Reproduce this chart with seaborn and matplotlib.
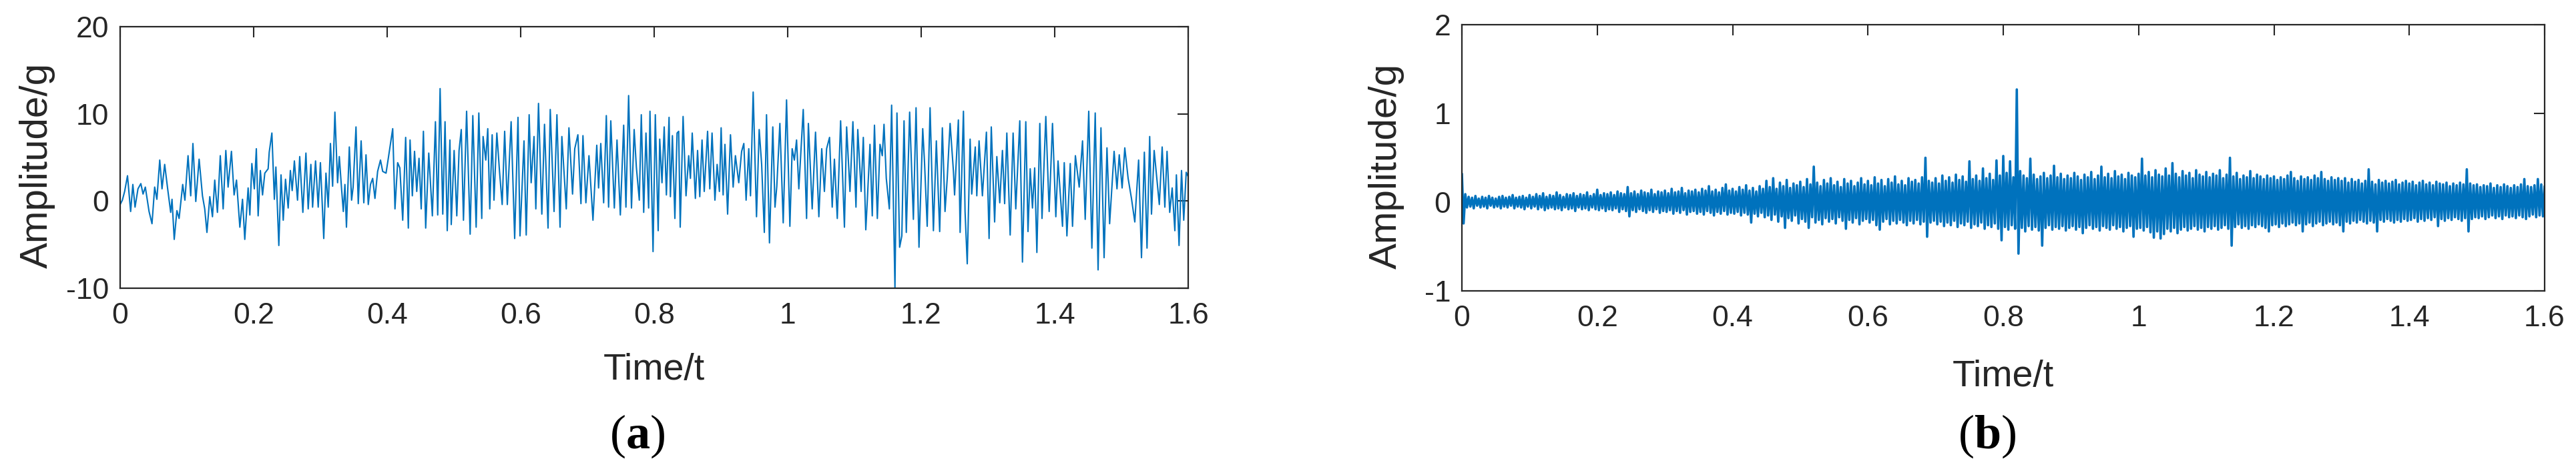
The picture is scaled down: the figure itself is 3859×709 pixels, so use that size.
import numpy as np
import pandas as pd
import matplotlib
matplotlib.use("Agg")
import matplotlib.pyplot as plt
import seaborn as sns

# ---------------- data ----------------
# Panel (a): time / amplitude of the visible turning points
TIME_A = [
    0.0000, 0.0033, 0.0067, 0.0110, 0.0157, 0.0190, 0.0223, 0.0267, 0.0310, 0.0343,
    0.0377, 0.0433, 0.0477, 0.0517, 0.0550, 0.0593, 0.0627, 0.0667, 0.0710, 0.0757,
    0.0777, 0.0810, 0.0850, 0.0883, 0.0937, 0.0970, 0.1017, 0.1057, 0.1090, 0.1133,
    0.1183, 0.1233, 0.1267, 0.1300, 0.1343, 0.1383, 0.1417, 0.1457, 0.1500, 0.1543,
    0.1583, 0.1617, 0.1667, 0.1707, 0.1743, 0.1793, 0.1833, 0.1867, 0.1917, 0.1943,
    0.1973, 0.2010, 0.2040, 0.2067, 0.2100, 0.2133, 0.2167, 0.2217, 0.2233, 0.2273,
    0.2310, 0.2333, 0.2377, 0.2410, 0.2443, 0.2477, 0.2517, 0.2550, 0.2577, 0.2610,
    0.2657, 0.2690, 0.2737, 0.2783, 0.2817, 0.2857, 0.2883, 0.2927, 0.2967, 0.3000,
    0.3050, 0.3083, 0.3117, 0.3150, 0.3183, 0.3217, 0.3257, 0.3283, 0.3317, 0.3343,
    0.3367, 0.3390, 0.3433, 0.3467, 0.3490, 0.3533, 0.3567, 0.3610, 0.3650, 0.3683,
    0.3717, 0.3750, 0.3783, 0.3817, 0.3857, 0.3900, 0.3933, 0.3983, 0.4017,
    0.4083, 0.4117, 0.4157, 0.4190, 0.4233, 0.4277, 0.4317, 0.4343, 0.4377, 0.4410,
    0.4443, 0.4477, 0.4510, 0.4543, 0.4577, 0.4623, 0.4677, 0.4723, 0.4757, 0.4793,
    0.4833, 0.4867, 0.4900, 0.4940, 0.4960, 0.5003, 0.5043, 0.5077, 0.5110, 0.5143,
    0.5190, 0.5243, 0.5283, 0.5333, 0.5373, 0.5417, 0.5437, 0.5477, 0.5507, 0.5537,
    0.5573, 0.5600, 0.5643, 0.5683, 0.5723, 0.5760, 0.5800, 0.5857, 0.5910, 0.5960,
    0.5990, 0.6050, 0.6083, 0.6127, 0.6157, 0.6200, 0.6227, 0.6267, 0.6317, 0.6357,
    0.6410, 0.6443, 0.6500, 0.6543, 0.6590, 0.6617, 0.6683, 0.6723, 0.6777, 0.6810,
    0.6857, 0.6903, 0.6933, 0.6977, 0.7023, 0.7083, 0.7140, 0.7167, 0.7200, 0.7243,
    0.7283, 0.7317, 0.7350, 0.7403, 0.7443, 0.7493, 0.7543, 0.7577, 0.7617, 0.7660,
    0.7700, 0.7733, 0.7777, 0.7807, 0.7843, 0.7877, 0.7917, 0.7937, 0.7983, 0.8017,
    0.8060, 0.8083, 0.8117, 0.8150, 0.8183, 0.8223, 0.8243, 0.8273, 0.8310, 0.8343,
    0.8367, 0.8390, 0.8433, 0.8477, 0.8517, 0.8543, 0.8570, 0.8617, 0.8650, 0.8683,
    0.8717, 0.8750, 0.8800, 0.8833, 0.8867, 0.8910, 0.8943, 0.8977, 0.9003, 0.9033,
    0.9060, 0.9100, 0.9143, 0.9183, 0.9217, 0.9267, 0.9310, 0.9343, 0.9377, 0.9417,
    0.9443, 0.9483, 0.9533, 0.9573, 0.9610, 0.9650, 0.9683, 0.9727, 0.9777, 0.9810,
    0.9837, 0.9883, 0.9933, 0.9983, 1.0033, 1.0067, 1.0100, 1.0133, 1.0167, 1.0233,
    1.0283, 1.0310, 1.0367, 1.0417, 1.0467, 1.0510, 1.0550, 1.0583, 1.0627, 1.0667,
    1.0700, 1.0743, 1.0793, 1.0850, 1.0883, 1.0933, 1.0977, 1.1023, 1.1050, 1.1100,
    1.1133, 1.1170, 1.1193, 1.1233, 1.1267, 1.1300, 1.1343, 1.1383, 1.1417, 1.1443,
    1.1477, 1.1523, 1.1557, 1.1607, 1.1637, 1.1677, 1.1710, 1.1743, 1.1777, 1.1827,
    1.1883, 1.1923, 1.1967, 1.2023,
    1.2050, 1.2090, 1.2133, 1.2183, 1.2227, 1.2277, 1.2317, 1.2357, 1.2390, 1.2433,
    1.2483, 1.2500, 1.2557, 1.2583, 1.2633, 1.2657, 1.2690, 1.2733, 1.2757, 1.2810,
    1.2833, 1.2867, 1.2917, 1.2977, 1.3017, 1.3050, 1.3100, 1.3133, 1.3177, 1.3217,
    1.3250, 1.3283, 1.3333, 1.3377, 1.3417, 1.3477, 1.3517, 1.3567, 1.3600, 1.3633,
    1.3667, 1.3700, 1.3733, 1.3777, 1.3810, 1.3867, 1.3917, 1.3967, 1.4017, 1.4050,
    1.4117, 1.4143, 1.4183, 1.4233, 1.4267, 1.4310, 1.4367, 1.4417, 1.4457, 1.4510,
    1.4557, 1.4607, 1.4650, 1.4693, 1.4740, 1.4783, 1.4823, 1.4890, 1.4933, 1.4967,
    1.5010, 1.5050, 1.5100, 1.5150, 1.5200, 1.5257, 1.5300, 1.5343, 1.5383, 1.5423,
    1.5450, 1.5490, 1.5567, 1.5610, 1.5650, 1.5683, 1.5723, 1.5760, 1.5800, 1.5823,
    1.5863, 1.5900, 1.5933, 1.5970, 1.6000,
]
AMP_A = [
    -0.4, 0.1, 1.1, 2.9, -1.2, 1.9, -0.7, 1.4, 2.0, 0.8,
    1.6, -1.2, -2.6, 1.6, 0.2, 4.7, 1.4, 4.2, 1.5, -1.3,
    0.2, -4.4, -1.1, -2.0, 1.9, 0.1, 5.2, 0.6, 6.6, -0.05,
    4.8, 0.6, -0.9, -3.6, 0.5, -1.8, 2.4, -1.3, 5.2, -0.9,
    5.8, 1.6, 5.7, 0.7, 2.4, -3.0, 0.2, -4.4, 1.5, -1.6,
    4.3, 1.4, 6.0, -1.7, 3.5, 0.7, 3.2, 3.7, 5.6, 7.8,
    0.2, 3.9, -5.1, 3.0, -2.2, 2.5, -0.8, 3.5, 1.2, 4.6,
    0.1, 5.1, -1.3, 5.5, -0.9, 4.2, -0.7, 4.6, -0.7, 4.4,
    -4.3, 3.2, -0.7, 6.6, 1.7, 10.2, 2.1, 5.1, 1.4, -1.2,
    1.9, -3.0, 6.2, 0.1, 1.6, 8.5, -0.3, 6.9, -0.2, 5.3,
    -0.4, 1.9, 2.6, 0.3, 3.4, 4.7, 3.4, 3.2, 4.9,
    8.3, -0.9, 4.4, 3.8, -2.2, 7.3, -3.1, 7.0, 0.6, 5.7,
    1.1, 4.9, -0.9, 8.0, -3.1, 5.5, -1.7, 9.1, -1.6, 12.9,
    -1.5, 9.1, -3.4, 7.0, -2.7, 5.8, -1.7, 5.8, 8.2, -2.2,
    10.3, -3.8, 9.8, -3.0, 10.1, -2.0, 7.4, 4.7, 8.3, -0.9,
    7.6, 0.1, 7.8, 3.4, -0.4, 8.0, -0.4, 9.1, -4.3, 9.6,
    -4.0, 6.9, -3.9, 9.9, 2.1, 7.4, -0.9, 11.2, -1.5, 8.8,
    -3.1, 10.5, -1.2, 9.9, -3.0, 7.4, -0.9, 8.4, 0.8, 6.0,
    7.6, -0.3, 7.5, -0.2, 5.2, -2.2, 6.4, 1.5, 6.6, -0.2,
    9.8, -0.7, 9.2, -0.8, 7.0, -1.6, 8.7, -0.7, 12.1, -0.8,
    8.2, 3.9, 0.1, 9.9, -1.3, 7.8, -0.8, 10.3, -5.8, 9.9,
    -3.4, 7.1, 2.1, 8.5, 0.7, 9.6, 0.5, 7.5, -2.0, 7.8,
    8.0, -3.0, 9.7, 0.6, 5.2, 2.6, 7.8, 0.3, 5.8, 0.5,
    7.0, 1.1, 8.0, 1.4, 7.8, 0.1, 4.2, 1.1, 8.4, 0.7,
    6.5, -1.5, 7.6, 1.6, 5.2, 2.1, 5.7, 6.6, 0.1, 6.0,
    0.6, 12.5, -1.8, 8.2, 4.2, -3.6, 9.9, -4.8, 8.5, -0.7,
    1.7, 8.9, -2.5, 11.6, -2.9, 6.0, 4.7, 7.0, 1.4, 10.5,
    -2.0, 8.9, -0.9, 7.9, -1.8, 6.0, 1.1, 6.0, 7.3, -0.7,
    4.8, -2.0, 9.2, -3.0, 8.5, 1.1, 9.1, -0.7, 8.2, 1.1,
    7.3, -3.3, 0.1, 6.5, -1.7, 8.7, -2.0, 6.5, 5.2, 8.8,
    2.6, -0.9, 11.0, -10.0, 10.1, -5.3, -4.0, 9.2, -3.6, 10.2,
    -2.1, 10.7, -5.3, 8.3,
    4.4, -2.9, 10.7, -3.4, 6.9, -3.5, 8.4, -1.2, 2.6, 8.9,
    3.4, 0.7, 9.3, -3.6, 10.3, -1.2, -7.2, 7.1, 0.8, 6.2,
    0.6, 6.9, 0.6, 7.9, -4.3, 8.5, -2.4, 5.1, -0.2, 5.8,
    -0.3, 7.8, -3.9, 7.8, -0.9, 9.2, -7.0, 9.1, -3.5, 3.7,
    -0.8, 3.8, -5.9, 8.9, -2.0, 9.7, -1.2, 8.9, -1.8, 4.6,
    -2.9, 4.4, -4.0, 4.3, -2.9, 5.2, 1.6, 6.9, -2.1, 10.3,
    -5.4, 10.1, -7.9, 8.4, -6.5, 6.1, -2.6, 5.7, 1.4, 5.3,
    1.5, 6.1, 2.6, 0.3, -2.4, 4.7, -6.5, 5.6, -5.4, 7.4,
    -1.5, 5.8, -0.4, 6.2, -0.7, 5.7, -1.3, 1.5, -3.4, 3.0,
    -5.1, 3.5, -2.2, 3.3, 2.8,
]

# Panel (b): dense band, upper excursions (every 0.005 s from 0)
B_UPPER = [
    0.32, 0.09, 0.06, 0.05, 0.07, 0.04, 0.06, 0.05, 0.07, 0.05, 0.04, 0.06, 0.07, 0.05, 0.06, 0.08, 0.05, 0.06, 0.07, 0.05,
    0.08, 0.06, 0.09, 0.07, 0.10, 0.06, 0.08, 0.07, 0.11, 0.08, 0.06, 0.09, 0.08, 0.10, 0.07, 0.09, 0.08, 0.11, 0.07, 0.09,
    0.14, 0.08, 0.10, 0.09, 0.11, 0.08, 0.12, 0.10, 0.09, 0.17, 0.10, 0.12, 0.09, 0.13, 0.11, 0.10, 0.14, 0.09, 0.12, 0.11,
    0.13, 0.10, 0.15, 0.11, 0.12, 0.16, 0.10, 0.13, 0.12, 0.14, 0.11, 0.15, 0.13, 0.18, 0.12, 0.14, 0.11, 0.16, 0.20, 0.13,
    0.15, 0.12, 0.17, 0.14, 0.19, 0.13, 0.16, 0.12, 0.18, 0.15, 0.24, 0.17, 0.27, 0.15, 0.22, 0.18, 0.25, 0.16, 0.21, 0.19,
    0.23, 0.17, 0.26, 0.20, 0.40, 0.22, 0.18, 0.25, 0.21, 0.27, 0.19, 0.23, 0.17, 0.26, 0.21, 0.24, 0.18, 0.22, 0.27, 0.20,
    0.24, 0.19, 0.28, 0.21, 0.25, 0.18, 0.26, 0.22, 0.29, 0.20, 0.24, 0.19, 0.27, 0.23, 0.25, 0.21, 0.28, 0.50, 0.24, 0.22,
    0.27, 0.21, 0.30, 0.24, 0.28, 0.22, 0.31, 0.25, 0.29, 0.23, 0.46, 0.26, 0.30, 0.24, 0.38, 0.27, 0.32, 0.25, 0.47, 0.30,
    0.52, 0.33, 0.46, 0.28, 1.27, 0.35, 0.30, 0.27, 0.49, 0.31, 0.26, 0.29, 0.33, 0.27, 0.30, 0.41, 0.28, 0.32, 0.26, 0.30,
    0.27, 0.33, 0.29, 0.25, 0.31, 0.28, 0.34, 0.26, 0.30, 0.40, 0.28, 0.32, 0.27, 0.35, 0.29, 0.31, 0.26, 0.33, 0.30, 0.28,
    0.32, 0.49, 0.30, 0.34, 0.28, 0.36, 0.31, 0.29, 0.38, 0.30, 0.44, 0.32, 0.28, 0.35, 0.30, 0.33, 0.27, 0.36, 0.31, 0.29,
    0.34, 0.28, 0.32, 0.30, 0.36, 0.27, 0.31, 0.50, 0.29, 0.33, 0.26, 0.30, 0.28, 0.35, 0.27, 0.31, 0.29, 0.26, 0.30, 0.27,
    0.29, 0.25, 0.28, 0.26, 0.30, 0.34, 0.27, 0.24, 0.29, 0.26, 0.28, 0.25, 0.30, 0.27, 0.34, 0.26, 0.24, 0.28, 0.25, 0.27,
    0.24, 0.27, 0.22, 0.26, 0.23, 0.25, 0.21, 0.24, 0.37, 0.23, 0.20, 0.25, 0.22, 0.24, 0.21, 0.23, 0.25, 0.20, 0.22, 0.24,
    0.21, 0.23, 0.19, 0.22, 0.24, 0.20, 0.22, 0.19, 0.23, 0.21, 0.20, 0.22, 0.18, 0.21, 0.19, 0.22, 0.20, 0.37, 0.21, 0.19,
    0.20, 0.17, 0.19, 0.18, 0.21, 0.16, 0.19, 0.17, 0.20, 0.18, 0.16, 0.19, 0.17, 0.20, 0.26, 0.18, 0.17, 0.19, 0.26, 0.20,
    0.18,
]
# Panel (b): lower excursions (every 0.005 s from 0.0025)
B_LOWER = [
    -0.24, -0.06, -0.05, -0.07, -0.04, -0.06, -0.05, -0.07, -0.04, -0.06, -0.05, -0.07, -0.05, -0.06, -0.04, -0.07, -0.05, -0.06, -0.08, -0.05,
    -0.07, -0.05, -0.08, -0.06, -0.09, -0.07, -0.06, -0.08, -0.07, -0.09, -0.06, -0.08, -0.07, -0.10, -0.06, -0.08, -0.07, -0.09, -0.06, -0.08,
    -0.09, -0.07, -0.10, -0.08, -0.09, -0.07, -0.11, -0.08, -0.10, -0.16, -0.09, -0.11, -0.08, -0.10, -0.12, -0.09, -0.11, -0.08, -0.12, -0.10,
    -0.11, -0.09, -0.13, -0.10, -0.12, -0.09, -0.14, -0.11, -0.10, -0.13, -0.11, -0.14, -0.10, -0.12, -0.15, -0.11, -0.13, -0.10, -0.14, -0.12,
    -0.13, -0.11, -0.15, -0.12, -0.14, -0.23, -0.13, -0.16, -0.12, -0.17, -0.15, -0.20, -0.14, -0.22, -0.16, -0.29, -0.18, -0.21, -0.15, -0.24,
    -0.19, -0.22, -0.29, -0.17, -0.23, -0.20, -0.25, -0.18, -0.22, -0.19, -0.24, -0.17, -0.21, -0.30, -0.20, -0.23, -0.18, -0.25, -0.21, -0.19,
    -0.23, -0.20, -0.26, -0.31, -0.22, -0.19, -0.25, -0.21, -0.24, -0.20, -0.23, -0.26, -0.21, -0.24, -0.20, -0.25, -0.22, -0.39, -0.23, -0.21,
    -0.25, -0.22, -0.27, -0.23, -0.26, -0.21, -0.28, -0.24, -0.26, -0.22, -0.29, -0.25, -0.27, -0.23, -0.30, -0.26, -0.28, -0.24, -0.30, -0.43,
    -0.28, -0.31, -0.26, -0.30, -0.58, -0.29, -0.33, -0.27, -0.31, -0.28, -0.32, -0.49, -0.29, -0.26, -0.31, -0.28, -0.30, -0.27, -0.32, -0.29,
    -0.27, -0.31, -0.28, -0.35, -0.29, -0.26, -0.30, -0.28, -0.32, -0.27, -0.29, -0.31, -0.26, -0.30, -0.28, -0.33, -0.29, -0.27, -0.39, -0.30,
    -0.29, -0.32, -0.28, -0.34, -0.40, -0.33, -0.41, -0.36, -0.30, -0.33, -0.29, -0.35, -0.31, -0.28, -0.32, -0.30, -0.27, -0.31, -0.29, -0.33,
    -0.28, -0.30, -0.27, -0.31, -0.29, -0.26, -0.30, -0.49, -0.28, -0.25, -0.29, -0.27, -0.30, -0.26, -0.28, -0.25, -0.27, -0.29, -0.33, -0.26,
    -0.25, -0.28, -0.24, -0.27, -0.25, -0.23, -0.26, -0.24, -0.33, -0.25, -0.23, -0.27, -0.24, -0.22, -0.26, -0.24, -0.22, -0.25, -0.23, -0.26,
    -0.33, -0.22, -0.24, -0.21, -0.23, -0.20, -0.22, -0.24, -0.21, -0.23, -0.33, -0.20, -0.22, -0.19, -0.21, -0.23, -0.20, -0.22, -0.19, -0.21,
    -0.20, -0.18, -0.22, -0.19, -0.21, -0.18, -0.20, -0.17, -0.27, -0.19, -0.21, -0.18, -0.20, -0.17, -0.19, -0.21, -0.18, -0.33, -0.19, -0.17,
    -0.18, -0.16, -0.19, -0.17, -0.15, -0.18, -0.16, -0.19, -0.15, -0.17, -0.16, -0.18, -0.15, -0.17, -0.19, -0.16, -0.14, -0.17, -0.15, -0.16,
]
B_STEP = 0.005

X_TICKS = [0, 0.2, 0.4, 0.6, 0.8, 1.0, 1.2, 1.4, 1.6]
X_TICK_LABELS = ["0", "0.2", "0.4", "0.6", "0.8", "1", "1.2", "1.4", "1.6"]
Y_TICKS_A = [-10, 0, 10, 20]
Y_TICKS_B = [-1, 0, 1, 2]
X_LABEL = "Time/t"
Y_LABEL = "Amplitude/g"
PANEL_LABELS = ["a", "b"]

# ---------------- styling ----------------
sns.set_theme(style="white")
plt.rcParams["font.family"] = ["Liberation Sans", "DejaVu Sans"]
plt.rcParams["mathtext.fontset"] = "custom"
plt.rcParams["mathtext.rm"] = "Liberation Serif"
plt.rcParams["mathtext.bf"] = "Liberation Serif:bold"

LINE_COLOR = "#0072BD"
AX_COLOR = "#262626"
W, H = 3859, 709

fig = plt.figure(figsize=(W / 100, H / 100), dpi=100)
fig.patch.set_facecolor("white")

ax_a = fig.add_axes([180 / W, 1 - 432 / H, 1600 / W, 392 / H])
ax_b = fig.add_axes([2190 / W, 1 - 436 / H, 1622 / W, 399 / H])

df_a = pd.DataFrame({"t": TIME_A, "amp": AMP_A})
sns.lineplot(data=df_a, x="t", y="amp", ax=ax_a, color=LINE_COLOR,
             linewidth=1.5, estimator=None, sort=False)

t_up = np.arange(len(B_UPPER)) * B_STEP
t_lo = np.arange(len(B_LOWER)) * B_STEP + B_STEP / 2
df_b = pd.DataFrame({"t": np.concatenate([t_up, t_lo]),
                     "amp": np.concatenate([B_UPPER, B_LOWER])}).sort_values("t")
sns.lineplot(data=df_b, x="t", y="amp", ax=ax_b, color=LINE_COLOR,
             linewidth=2.6, estimator=None, sort=False)

for ax, yt, ylim, xl_y, yl_x in [
    (ax_a, Y_TICKS_A, (-10, 20), -0.314, -0.0775),
    (ax_b, Y_TICKS_B, (-1, 2), -0.323, -0.0697),
]:
    ax.set_xlim(0, 1.6)
    ax.set_ylim(*ylim)
    ax.set_xticks(X_TICKS)
    ax.set_xticklabels(X_TICK_LABELS)
    ax.set_yticks(yt)
    ax.set_yticklabels([str(v) for v in yt])
    ax.tick_params(axis="both", which="major", direction="in", length=11.5,
                   width=1.5, color=AX_COLOR, labelcolor=AX_COLOR,
                   labelsize=32, top=True, right=True)
    ax.tick_params(axis="x", pad=15)
    ax.tick_params(axis="y", pad=12)
    for s in ax.spines.values():
        s.set_visible(True)
        s.set_color(AX_COLOR)
        s.set_linewidth(1.6)
    ax.set_xlabel(X_LABEL, fontsize=40, color=AX_COLOR)
    ax.set_ylabel(Y_LABEL, fontsize=42, color=AX_COLOR)
    ax.xaxis.set_label_coords(0.5, xl_y)
    ax.xaxis.label.set_va("center")
    ax.yaxis.set_label_coords(yl_x, 0.47)
    ax.yaxis.label.set_va("center")
    ax.grid(False)
    ax.set_facecolor("white")

for lbl, xc in zip(PANEL_LABELS, [955, 2977]):
    fig.text(xc / W, 1 - 654 / H, r"($\mathbf{" + lbl + r"}$)", ha="center", va="center",
             fontsize=52, family="Liberation Serif", color="black")

fig.savefig("out.png", dpi=100, facecolor="white")
